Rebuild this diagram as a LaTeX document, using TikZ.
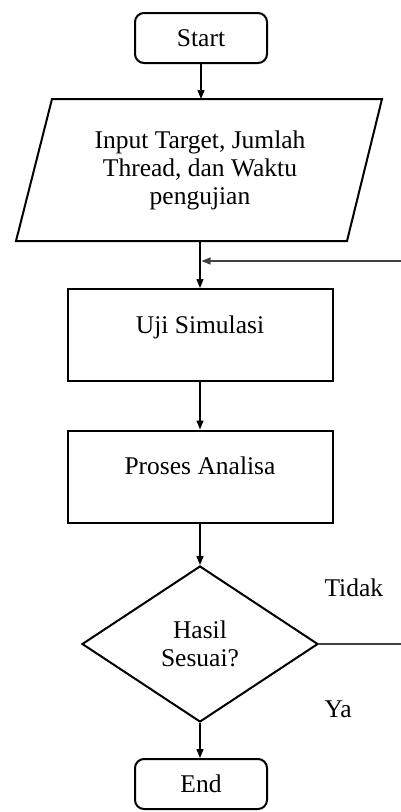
\documentclass[tikz,border=0pt]{standalone}
\usepackage{fontspec}
\setmainfont{Liberation Serif}
\usetikzlibrary{shapes.geometric,arrows.meta}
\begin{document}
\begin{tikzpicture}[x=1pt,y=-1pt,
  font=\fontsize{25.5}{28}\selectfont,
  term/.style={draw,line width=2pt,rounded corners=9pt,minimum width=132pt,minimum height=50pt,inner sep=0pt},
  proc/.style={draw,line width=2pt,minimum width=265pt,minimum height=92pt,inner sep=0pt,text height=16pt,text depth=20pt},
  dec/.style={draw,line width=2pt,diamond,aspect=1.513,minimum width=236pt,minimum height=156pt,inner sep=0pt,align=center},
  conn/.style={line width=1.3pt,-{Triangle[length=9pt,width=7pt]}},
  back/.style={line width=1.3pt,draw=black!75}]
\useasboundingbox (0,0) rectangle (400,812);
\node[term] (start) at (201,38) {Start};
\coordinate (intop) at (201,99);
\coordinate (inbot) at (200,241);
\draw[line width=2pt,line join=miter] (52,99) -- (382,99) -- (347,241) -- (16,241) -- cycle;
\node[align=center] (input) at (200,170) {Input Target, Jumlah\\Thread, dan Waktu\\pengujian};
\node[proc] (uji) at (200,335) {Uji Simulasi};
\node[proc] (analisa) at (200,476.5) {Proses Analisa};
\node[dec] (hasil) at (200,644) {Hasil\\Sesuai?};
\node[term] (end) at (201,784) {End};
\coordinate (join) at (200,261);
\coordinate (edge) at (404,644);
\node[anchor=west] (tidak) at (321,588) {Tidak};
\node[anchor=west] (ya) at (321,709) {Ya};
\draw[conn] (start.south) -- (intop);
\draw[conn] (inbot) -- (uji.north);
\draw[conn] (uji.south) -- (analisa.north);
\draw[conn] (analisa.south) -- (hasil.north);
\draw[conn] (hasil.south) -- (hasil.south |- end.north);
\draw[back] (hasil.east) -- (edge);
\draw[back,-{Triangle[length=9pt,width=7pt]},shorten >=1.5pt] (edge) |- (join);
\end{tikzpicture}
\end{document}
